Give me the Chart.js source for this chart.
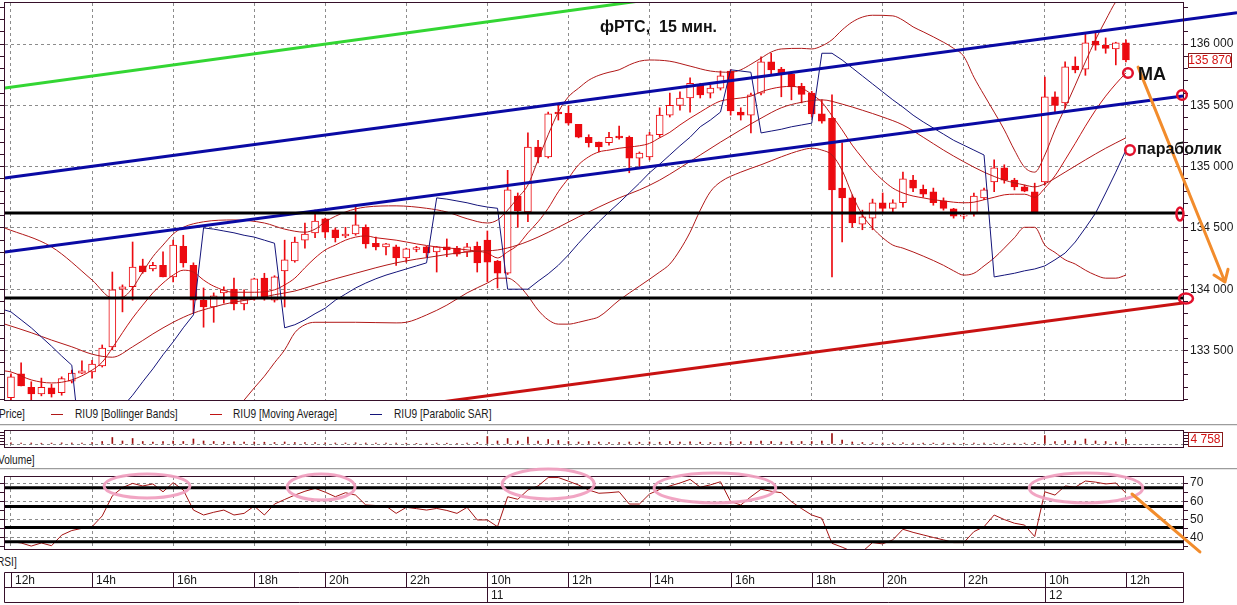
<!DOCTYPE html>
<html>
<head>
<meta charset="utf-8">
<title>фРТС 15 мин</title>
<script src="https://cdn.jsdelivr.net/npm/chart.js@4.4.1/dist/chart.umd.min.js"></script>
<style>
  html, body { margin: 0; padding: 0; background: #fff; overflow: hidden; }
  #page { position: relative; width: 1237px; height: 605px; }
  canvas { position: absolute; left: 0; z-index: 2; }
  .sep { position: absolute; left: 0; width: 1237px; height: 1px; background: #9c9c9c; border-bottom: 1px solid #e6e6e6; }
  .txt { position: absolute; font: 13px "Liberation Sans", Arial, sans-serif; line-height: 14px; color: #1a1a1a; white-space: nowrap; transform: scaleX(0.78); transform-origin: 0 0; }
  .key { position: absolute; width: 12px; height: 1px; }
</style>
</head>
<body>
<div id="page">
  <canvas id="main" width="1237" height="405" style="top:0"></canvas>
  <div class="txt" style="left:-1px;top:407px">Price]</div>
  <div class="key" style="left:51px;top:414px;background:#b01818"></div>
  <div class="txt" style="left:75px;top:407px">RIU9 [Bollinger Bands]</div>
  <div class="key" style="left:210px;top:414px;background:#c01414"></div>
  <div class="txt" style="left:233px;top:407px">RIU9 [Moving Average]</div>
  <div class="key" style="left:370px;top:414px;background:#14147a"></div>
  <div class="txt" style="left:394px;top:407px">RIU9 [Parabolic SAR]</div>
  <div class="sep" style="top:424px"></div>
  <canvas id="vol" width="1237" height="24" style="top:427px"></canvas>
  <div class="txt" style="left:-2px;top:453px">Volume]</div>
  <div class="sep" style="top:468px"></div>
  <canvas id="rsi" width="1237" height="145" style="top:460px"></canvas>
  <div class="txt" style="left:-3px;top:555px">RSI]</div>
</div>
<script>
// 15-minute bars, index 0 = 12:00 on the 10th
const opens = [133115,133310,133200,133145,133195,133155,133250,133315,133325,133375,
  133530,134000,134020,134190,134165,134195,134100,134350,134195,133910,
  133855,133970,134000,133880,133930,134090,133910,134150,134230,134400,
  134460,134575,134485,134435,134450,134505,134375,134345,134345,134255,
  134325,134345,134305,134345,134335,134305,134350,134400,134230,134130,
  134760,134630,135160,135080,135445,135435,135345,135240,135200,135195,
  135250,135240,135070,135080,135260,135420,135500,135560,135665,135600,
  135640,135780,135445,135420,135600,135855,135795,135755,135655,135600,
  135430,135395,134825,134745,134530,134580,134705,134660,134705,134890,
  134815,134795,134720,134655,134595,134615,134745,134875,134990,134890,
  134835,134795,134875,135570,135520,135820,135795,136025,135990,135960,136010];
const highs = [133310,133400,133245,133275,133225,133285,133340,133415,133420,133545,
  134140,134035,134385,134245,134220,134305,134400,134440,134215,134010,
  133970,134020,134090,133995,134090,134130,134110,134400,134425,134540,
  134645,134580,134500,134505,134680,134525,134425,134375,134360,134335,
  134350,134350,134350,134410,134350,134375,134385,134475,134235,134970,
  134785,135275,135215,135445,135500,135495,135345,135260,135200,135280,
  135330,135250,135120,135280,135480,135600,135610,135725,135680,135665,
  135780,135790,135480,135600,135895,135925,135810,135770,135680,135615,
  135545,135585,135195,134770,134645,134735,134785,134730,134955,134930,
  134850,134825,134745,134660,134620,134785,134825,135055,135015,134905,
  134850,134865,135730,135610,135855,135895,136090,136090,136050,136015,136035];
const lows = [133095,133210,133095,133130,133120,133135,133235,133310,133275,133365,
  133505,133815,133910,134130,134150,134100,134060,134180,133805,133690,
  133730,133885,133830,133830,133910,133910,133895,133855,134220,134335,
  134420,134420,134385,134420,134440,134335,134320,134280,134195,134220,
  134305,134265,134140,134265,134270,134265,134140,134060,134010,134120,
  134505,134550,135030,135070,135380,135340,135235,135160,135120,135175,
  135225,134950,135000,135055,135240,135405,135460,135445,135560,135560,
  135625,135420,135380,135275,135585,135745,135570,135545,135520,135405,
  135355,134100,134385,134505,134485,134485,134630,134630,134670,134795,
  134750,134685,134645,134580,134575,134595,134730,134795,134865,134810,
  134795,134620,134850,135445,135480,135765,135745,135950,135925,135830,135855];
const closes = [133285,133210,133145,133200,133145,133270,133315,133335,133390,133520,
  133995,134020,134180,134140,134195,134100,134360,134215,133910,133855,
  133945,133995,133880,133920,134085,133920,134100,134240,134385,134450,
  134555,134465,134420,134450,134525,134370,134345,134370,134255,134330,
  134340,134295,134345,134320,134285,134345,134215,134220,134130,134810,
  134640,135160,135080,135430,135430,135355,135240,135195,135160,135240,
  135235,135070,135110,135260,135420,135500,135560,135680,135585,135640,
  135740,135455,135420,135585,135855,135790,135765,135650,135590,135430,
  135370,134810,134745,134540,134590,134705,134660,134705,134900,134825,
  134775,134705,134660,134595,134605,134760,134810,134990,134890,134835,
  134800,134630,135570,135500,135815,135790,136010,135990,135965,136010,135870];
const volumes = [1200,900,1000,800,900,1100,1000,900,1500,2500,
  6500,3000,5500,2500,2000,2500,3000,2500,5000,3000,
  2500,1800,2200,1800,2000,1800,1500,2000,1500,1300,
  1500,1200,1000,1000,1200,1000,900,800,900,800,
  700,800,900,800,700,900,1500,7500,3000,5500,
  3000,7000,3000,4500,3500,2500,2000,2500,1800,1500,
  1500,2000,1800,2000,1800,2500,1800,2200,1800,1500,
  1500,2500,2000,2500,3000,2500,2000,2500,2500,2500,
  3000,10500,4000,2000,1500,1200,1000,1000,1200,1000,
  900,900,1000,900,800,1000,900,1000,900,800,
  900,1500,8500,2500,3500,3000,5000,3000,2500,2000,4758];
const rsiValues = [37.9,37.2,35.5,37.2,35.7,41.5,44,45.2,46.1,52,
  63,67.5,69.8,68.4,69.5,65.2,70.2,66.2,55.2,52.5,
  54,55.2,52.5,53.4,57.4,52.5,58.5,61,63.4,65.5,
  67.1,65,62.5,64.7,63.4,58,57.7,57.4,53.4,56.7,
  56,55.2,56.1,55,53.4,56.7,49.8,49.8,46.1,62.5,
  61.1,66.2,68.4,73,73,71,68.9,66.2,64.4,64.7,
  65.2,58.5,58.5,64,66.5,68.4,70,72,67.7,69,
  70.7,59.8,58,62.5,66.6,65.5,64.7,59.8,56,52.5,
  50.7,37,34.9,32.5,32.5,37.4,36.7,38.9,44.7,43,
  41.6,40.2,38.9,37.4,37.4,43.4,46.1,52.5,50,48,
  47,40.7,65.2,63.4,68.4,67.7,71.1,70.5,69.5,70,64.5];

// indicator lines, [bar index, price]
const bbUpper = [[-0.6,134499],[4,134345],[8,134075],[10,133930],[11,133935],[12,134010],[13,134140],[14,134265],[15,134360],[16,134450],[17,134505],[19,134550],[22,134565],[25,134540],[27,134490],[29,134465],[30,134490],[31,134550],[33,134630],[35,134670],[38,134680],[41,134660],[43,134630],[45,134575],[47,134540],[48,134565],[49,134645],[50,134745],[51,134850],[52,135055],[53,135260],[54,135445],[55,135570],[56,135640],[57,135705],[58,135745],[59,135770],[60,135790],[61,135830],[62,135860],[63,135870],[65,135860],[67,135820],[69,135780],[71,135770],[72,135790],[73,135835],[74,135885],[75,135935],[76,135960],[78,135965],[79,135960],[80,135985],[81,136035],[82,136115],[83,136180],[84,136220],[85,136235],[87,136230],[88,136195],[89,136140],[90,136100],[92,136015],[93,135965],[94,135900],[95,135730],[96,135585],[97,135445],[98,135300],[99,135135],[100,134995],[101,134955],[102,135095],[103,135300],[104,135480],[105,135665],[106,135855],[107,136035],[108,136195],[109,136345],[110,136440]];
const bbMiddle = [[-0.6,133715],[2,133645],[4,133585],[6,133530],[8,133470],[10,133445],[12,133530],[14,133635],[16,133730],[18,133805],[20,133855],[22,133895],[24,133920],[26,133955],[28,133985],[30,134035],[32,134085],[34,134130],[36,134175],[38,134215],[40,134245],[42,134270],[44,134295],[46,134310],[48,134320],[50,134360],[52,134425],[54,134505],[56,134590],[58,134670],[60,134745],[62,134810],[64,134890],[66,134990],[68,135095],[70,135200],[72,135300],[74,135395],[76,135480],[78,135525],[80,135545],[82,135510],[84,135460],[86,135405],[88,135340],[90,135240],[92,135135],[94,135040],[96,134955],[98,134890],[100,134850],[101,134835],[102,134860],[104,134955],[106,135055],[108,135150],[110,135235]];
const bbLower = [[18,132600],[20,132800],[22,133000],[23,133095],[24,133195],[25,133290],[26,133400],[27,133505],[28,133645],[29,133710],[30,133730],[34,133730],[38,133725],[39,133730],[41,133790],[43,133870],[45,133970],[47,134050],[48,134090],[49,134090],[50,134040],[51,133945],[52,133830],[53,133750],[54,133715],[55,133715],[56,133730],[57,133750],[58,133775],[60,133910],[62,134025],[64,134140],[65,134205],[66,134320],[67,134465],[68,134645],[69,134795],[70,134875],[72,134955],[74,135015],[76,135080],[78,135135],[79,135150],[80,135135],[81,135095],[82,134970],[83,134770],[84,134605],[85,134500],[86,134420],[87,134360],[88,134335],[90,134270],[92,134195],[93,134150],[94,134115],[95,134130],[96,134190],[97,134255],[98,134335],[99,134420],[100,134505],[101,134505],[102,134360],[103,134300],[104,134240],[105,134205],[106,134155],[107,134115],[108,134090],[109,134090],[110,134115]];
const maLine = [[-0.6,133333],[0,133325],[2,133260],[4,133235],[6,133260],[8,133340],[9,133405],[10,133520],[11,133645],[12,133765],[13,133870],[14,133970],[15,134050],[16,134115],[17,134155],[18,134140],[19,134075],[20,134025],[22,133975],[24,133975],[26,133995],[27,134035],[28,134090],[29,134175],[30,134255],[31,134320],[32,134360],[33,134400],[34,134425],[35,134435],[36,134420],[38,134400],[40,134370],[42,134345],[44,134330],[46,134310],[47,134295],[48,134255],[49,134305],[50,134360],[51,134460],[52,134550],[53,134660],[54,134795],[55,134905],[56,135015],[57,135080],[58,135120],[59,135135],[60,135150],[61,135160],[62,135170],[63,135190],[64,135235],[65,135280],[66,135340],[67,135395],[68,135445],[69,135495],[70,135535],[71,135550],[72,135560],[73,135575],[74,135610],[75,135635],[76,135650],[77,135655],[78,135640],[79,135590],[80,135525],[81,135415],[82,135300],[83,135175],[84,135070],[85,134970],[86,134890],[87,134825],[88,134785],[89,134760],[90,134745],[91,134730],[92,134720],[93,134710],[94,134705],[95,134710],[96,134730],[97,134750],[98,134770],[99,134775],[100,134775],[101,134750],[102,134825],[103,134925],[104,135055],[105,135190],[106,135330],[107,135460],[108,135575],[109,135675],[110,135765]];
const sarLine = [[-0.6,133830],[0,133815],[1,133750],[2,133685],[3,133610],[4,133535],[5,133455],[6,133380],[7,132605],[8,132730],[9,132850],[10,132950],[11,133040],[12,133135],[13,133245],[14,133350],[15,133465],[16,133570],[17,133685],[18,133790],[19,134500],[20,134490],[21,134475],[22,134460],[23,134440],[24,134425],[25,134400],[26,134375],[27,133685],[28,133710],[29,133750],[30,133800],[31,133845],[32,133910],[33,133960],[34,134010],[35,134050],[36,134085],[37,134115],[38,134140],[39,134165],[40,134190],[41,134215],[42,134745],[43,134735],[44,134720],[45,134705],[46,134685],[47,134670],[48,134660],[49,134000],[50,134000],[51,134000],[52,134065],[53,134125],[54,134195],[55,134280],[56,134375],[57,134465],[58,134550],[59,134630],[60,134705],[61,134785],[62,134865],[63,134950],[64,135020],[65,135095],[66,135170],[67,135240],[68,135325],[69,135380],[70,135445],[71,135790],[72,135780],[73,135770],[74,135275],[75,135290],[76,135305],[77,135325],[78,135340],[79,135355],[80,135925],[81,135925],[82,135870],[83,135805],[84,135740],[85,135675],[86,135610],[87,135545],[88,135485],[89,135420],[90,135365],[91,135315],[92,135265],[93,135215],[94,135175],[95,135135],[96,135095],[97,134100],[98,134115],[99,134130],[100,134150],[101,134165],[102,134190],[103,134240],[104,134295],[105,134385],[106,134500],[107,134620],[108,134785],[109,134955],[110,135135]];

// hand-drawn lines on the chart, [bar index, price]
const greenLine = [[-0.6,135641],[70,136442]];
const blueUpper = [[-0.6,134907],[120.96,136255]];
const blueLower = [[-0.6,134303],[115.63,135576]];
const redLine = [[40,133053],[115.63,133887]];
const levelHigh = 134621;
const levelLow = 133928;
const rsiLevels = [67.4, 57.1, 45.6, 37.9];
const lastPrice = 135870;
const lastVolume = 4758;

const timeTicks = [0, 8, 16, 24, 31, 39, 47, 55, 63, 71, 79, 86, 94, 102, 110];
const timeLabels = ['12h','14h','16h','18h','20h','22h','10h','12h','14h','16h','18h','20h','22h','10h','12h'];
const dayTicks = [47, 102];
const dayLabels = ['11', '12'];

// notes drawn on the picture, in bar index / price (or RSI) units
const notes = [['фРТС,  15 мин.', 58.1, 136131, 16], ['MA', 111.2, 135745, 18], ['параболик', 111.1, 135135, 16]];
const rings = [[110.2, 135764, 'round'], [110.4, 135135, 'round'], [115.53, 135584, 'round'], [115.33, 134613, 'tall'], [115.92, 133924, 'wide']];
const arrowMain = [[111.2, 135812], [119.77, 134059]];
const arrowRsi = [[110.6, 64.0], [117.3, 32.3]];
const rsiEllipses = [[13.42, 68.4, 4.24, 6.6], [30.6, 67.8, 3.35, 7.1], [53.0, 69.5, 4.54, 8.2], [69.45, 67.3, 6.0, 8.2], [106.06, 67.3, 5.6, 8.2]];

const X_MIN = -0.59, X_MAX = 115.63;
const P_MIN = 133096, P_MAX = 136335;
const RSI_MIN = 33.9, RSI_MAX = 73.3;

const FRAME = '#36102a';
const GRID = '#8c8c8c';
const RED = '#ec0a10';
const FONT = '"Liberation Sans", Arial, sans-serif';

Chart.defaults.font.family = FONT;
Chart.defaults.font.size = 11;
Chart.defaults.color = '#1a1a1a';
Chart.defaults.animation = false;
Chart.defaults.responsive = false;
Chart.defaults.devicePixelRatio = 1;
Chart.defaults.plugins.legend.display = false;
Chart.defaults.plugins.tooltip.enabled = false;

const priceTicks = [];
for (let v = 133100; v <= 136300; v += 100) priceTicks.push(v);
const rsiTicks = [35, 40, 45, 50, 55, 60, 65, 70];
const volTicks = [0, 3000, 6000, 9000, 12000];

function fmt(v) {
  return String(v).replace(/\B(?=(\d{3})+(?!\d))/g, ' ');
}

function timeAxis() {
  return {
    type: 'linear', min: X_MIN, max: X_MAX, offset: false,
    afterBuildTicks: s => { s.ticks = timeTicks.map(v => ({ value: v })); },
    ticks: { display: false },
    grid: { color: GRID, drawTicks: false, offset: false },
    border: { display: false, dash: [3, 3] },
    afterFit: s => { s.height = 0; s.paddingLeft = 0; s.paddingRight = 0; }
  };
}

function valueAxis(side, min, max, tickValues, isMajor, label) {
  const right = side === 'right';
  return {
    type: 'linear', position: side, min: min, max: max,
    afterBuildTicks: s => { s.ticks = tickValues.map(v => ({ value: v })); },
    ticks: {
      display: right && !!label, autoSkip: false, padding: 2, color: '#1a1a1a',
      font: { size: 12 },
      callback: v => (label && isMajor(v)) ? label(v) : ''
    },
    grid: {
      drawOnChartArea: right,
      color: c => (c.tick && isMajor(c.tick.value)) ? GRID : 'rgba(0,0,0,0)',
      tickColor: FRAME, tickLength: 5
    },
    border: { display: false, dash: [3, 3] },
    afterFit: s => { s.width = right ? 54 : 5; s.paddingTop = 0; s.paddingBottom = 0; }
  };
}

function lineSet(points, color, width, smooth, order, noClip) {
  const ds = {
    type: 'line', yAxisID: 'y',
    data: points.map(p => ({ x: p[0], y: p[1] })),
    borderColor: color, borderWidth: width, pointRadius: 0, fill: false,
    tension: 0, cubicInterpolationMode: smooth ? 'monotone' : 'default',
    order: order
  };
  if (noClip) ds.clip = false;
  return ds;
}

const framePlugin = {
  id: 'frame',
  afterDraw(chart) {
    const a = chart.chartArea, ctx = chart.ctx;
    ctx.save();
    ctx.strokeStyle = FRAME;
    ctx.lineWidth = 1;
    ctx.strokeRect(Math.round(a.left) - 0.5, Math.round(a.top) - 0.5,
      Math.round(a.right - a.left) + 1, Math.round(a.bottom - a.top) + 1);
    ctx.restore();
  }
};

function drawArrow(ctx, x1, y1, x2, y2, head) {
  ctx.beginPath();
  ctx.moveTo(x1, y1);
  ctx.lineTo(x2, y2);
  if (head) {
    const ang = Math.atan2(y2 - y1, x2 - x1);
    for (const d of [-0.62, 0.62]) {
      ctx.moveTo(x2, y2);
      ctx.lineTo(x2 - 13 * Math.cos(ang + d), y2 - 13 * Math.sin(ang + d));
    }
  }
  ctx.stroke();
}

const mainNotes = {
  id: 'mainNotes',
  afterDraw(chart) {
    const ctx = chart.ctx, a = chart.chartArea;
    const X = v => chart.scales.x.getPixelForValue(v);
    const Y = v => chart.scales.y.getPixelForValue(v);
    ctx.save();

    // last price tag on the axis
    const py = Math.round(Y(lastPrice));
    ctx.fillStyle = '#fff';
    ctx.fillRect(a.right + 5, py - 7, 44, 15);
    ctx.strokeStyle = '#8a1a1a';
    ctx.lineWidth = 1;
    ctx.strokeRect(a.right + 5.5, py - 6.5, 43, 14);
    ctx.fillStyle = '#d41010';
    ctx.font = '12px ' + FONT;
    ctx.textBaseline = 'middle';
    ctx.textAlign = 'center';
    ctx.fillText(fmt(lastPrice), a.right + 27, py + 1);

    // orange arrow
    ctx.strokeStyle = '#f28c2c';
    ctx.lineWidth = 3;
    ctx.lineCap = 'round';
    drawArrow(ctx, X(arrowMain[0][0]), Y(arrowMain[0][1]), X(arrowMain[1][0]), Y(arrowMain[1][1]), true);

    // red rings
    ctx.strokeStyle = '#e2102c';
    ctx.lineWidth = 2.5;
    for (const r of rings) {
      const rx = r[2] === 'tall' ? 3.5 : r[2] === 'wide' ? 7 : 4.8;
      const ry = r[2] === 'tall' ? 6.5 : r[2] === 'wide' ? 5 : 4.8;
      ctx.beginPath();
      ctx.ellipse(X(r[0]), Y(r[1]), rx, ry, 0, 0, Math.PI * 2);
      ctx.stroke();
    }

    // bold notes
    ctx.fillStyle = '#111';
    ctx.textAlign = 'left';
    for (const n of notes) {
      ctx.font = 'bold ' + n[3] + 'px ' + FONT;
      ctx.fillText(n[0], X(n[1]), Y(n[2]));
    }
    ctx.restore();
  }
};

const volNotes = {
  id: 'volNotes',
  afterDraw(chart) {
    const ctx = chart.ctx, a = chart.chartArea;
    const py = Math.round(chart.scales.y.getPixelForValue(lastVolume));
    ctx.save();
    ctx.fillStyle = '#fff';
    ctx.fillRect(a.right + 5, py - 7, 35, 15);
    ctx.strokeStyle = '#8a1a1a';
    ctx.lineWidth = 1;
    ctx.strokeRect(a.right + 5.5, py - 6.5, 34, 14);
    ctx.fillStyle = '#d41010';
    ctx.font = '12px ' + FONT;
    ctx.textBaseline = 'middle';
    ctx.textAlign = 'center';
    ctx.fillText(fmt(lastVolume), a.right + 22.5, py + 1);
    ctx.restore();
  }
};

const rsiNotes = {
  id: 'rsiNotes',
  afterDraw(chart) {
    const ctx = chart.ctx, a = chart.chartArea;
    const xs = chart.scales.x, ys = chart.scales.y;
    const X = v => xs.getPixelForValue(v);
    const Y = v => ys.getPixelForValue(v);
    const pxPerBar = X(1) - X(0), pxPerRsi = Y(0) - Y(1);
    ctx.save();

    // pink marks around the highs
    ctx.strokeStyle = 'rgba(240,160,192,0.95)';
    ctx.lineWidth = 3;
    for (const e of rsiEllipses) {
      ctx.beginPath();
      ctx.ellipse(X(e[0]), Y(e[1]), e[2] * pxPerBar, e[3] * pxPerRsi, 0, 0, Math.PI * 2);
      ctx.stroke();
    }

    ctx.strokeStyle = '#f28c2c';
    ctx.lineWidth = 3;
    ctx.lineCap = 'round';
    drawArrow(ctx, X(arrowRsi[0][0]), Y(arrowRsi[0][1]), X(arrowRsi[1][0]), Y(arrowRsi[1][1]), false);

    // time scale table under the panels
    const top = Math.round(a.bottom) + 23.5, mid = top + 15, bot = mid + 15;
    const L = Math.round(a.left) - 0.5, R = Math.round(a.right) + 0.5;
    ctx.strokeStyle = FRAME;
    ctx.lineWidth = 1;
    ctx.lineCap = 'butt';
    ctx.beginPath();
    for (const y of [top, mid, bot]) { ctx.moveTo(L, y); ctx.lineTo(R, y); }
    ctx.moveTo(L, top); ctx.lineTo(L, bot);
    ctx.moveTo(R, top); ctx.lineTo(R, bot);
    timeTicks.forEach(v => { const x = Math.round(X(v)) + 0.5; ctx.moveTo(x, top); ctx.lineTo(x, mid); });
    dayTicks.forEach(v => { const x = Math.round(X(v)) + 0.5; ctx.moveTo(x, mid); ctx.lineTo(x, bot); });
    ctx.stroke();

    ctx.fillStyle = '#1a1a1a';
    ctx.font = '12px ' + FONT;
    ctx.textBaseline = 'middle';
    ctx.textAlign = 'left';
    timeTicks.forEach((v, i) => ctx.fillText(timeLabels[i], Math.round(X(v)) + 4, (top + mid) / 2 + 1));
    dayTicks.forEach((v, i) => ctx.fillText(dayLabels[i], Math.round(X(v)) + 4, (mid + bot) / 2 + 1));
    ctx.restore();
  }
};

const barIdx = opens.map((o, i) => i);
const isPriceMajor = v => v % 500 === 0;

new Chart(document.getElementById('main'), {
  type: 'bar',
  data: {
    datasets: [
      {
        yAxisID: 'y', order: 20, grouped: false, barThickness: 1,
        data: barIdx.map(i => ({ x: i, y: [lows[i], highs[i]] })),
        backgroundColor: RED
      },
      {
        yAxisID: 'y', order: 19, grouped: false, barThickness: 7, minBarLength: 1,
        data: barIdx.map(i => ({ x: i, y: [opens[i], closes[i]] })),
        backgroundColor: barIdx.map(i => closes[i] > opens[i] ? '#ffffff' : RED),
        borderColor: RED, borderWidth: 1, borderSkipped: false
      },
      lineSet(bbUpper, '#b01818', 1, true, 10),
      lineSet(bbMiddle, '#b01818', 1, true, 10),
      lineSet(bbLower, '#b01818', 1, true, 10),
      lineSet(maLine, '#c01414', 1, true, 10),
      lineSet(sarLine, '#14147a', 1, false, 9),
      lineSet(greenLine, '#33d633', 3, false, 3),
      lineSet(blueUpper, '#0a0aa4', 3, false, 3, true),
      lineSet(blueLower, '#0a0aa4', 3, false, 3),
      lineSet([[X_MIN, levelHigh], [X_MAX, levelHigh]], '#000000', 3, false, 2),
      lineSet([[X_MIN, levelLow], [X_MAX, levelLow]], '#000000', 3, false, 2),
      lineSet(redLine, '#c81212', 3, false, 3)
    ]
  },
  options: {
    layout: { padding: { top: 3, bottom: 5, left: 0, right: 0 } },
    scales: {
      x: timeAxis(),
      y: valueAxis('right', P_MIN, P_MAX, priceTicks, isPriceMajor, fmt),
      yl: valueAxis('left', P_MIN, P_MAX, priceTicks, isPriceMajor, null)
    }
  },
  plugins: [framePlugin, mainNotes]
});

new Chart(document.getElementById('vol'), {
  type: 'bar',
  data: {
    datasets: [{
      yAxisID: 'y', grouped: false, barThickness: 1,
      data: barIdx.map(i => ({ x: i, y: volumes[i] })),
      backgroundColor: '#9a1010'
    }]
  },
  options: {
    layout: { padding: { top: 4, bottom: 4, left: 0, right: 0 } },
    scales: {
      x: timeAxis(),
      y: valueAxis('right', -3000, 13000, volTicks, v => v === 0, null),
      yl: valueAxis('left', -3000, 13000, volTicks, v => v === 0, null)
    }
  },
  plugins: [framePlugin, volNotes]
});

new Chart(document.getElementById('rsi'), {
  type: 'line',
  data: {
    datasets: [
      lineSet(barIdx.map(i => [i, rsiValues[i]]), '#a41414', 1, false, 5)
    ].concat(rsiLevels.map(v => lineSet([[X_MIN, v], [X_MAX, v]], '#000000', 3, false, 2)))
  },
  options: {
    layout: { padding: { top: 17, bottom: 56, left: 0, right: 0 } },
    scales: {
      x: timeAxis(),
      y: valueAxis('right', RSI_MIN, RSI_MAX, rsiTicks, v => v % 10 === 0, v => String(v)),
      yl: valueAxis('left', RSI_MIN, RSI_MAX, rsiTicks, v => v % 10 === 0, null)
    }
  },
  plugins: [framePlugin, rsiNotes]
});
</script>
</body>
</html>
